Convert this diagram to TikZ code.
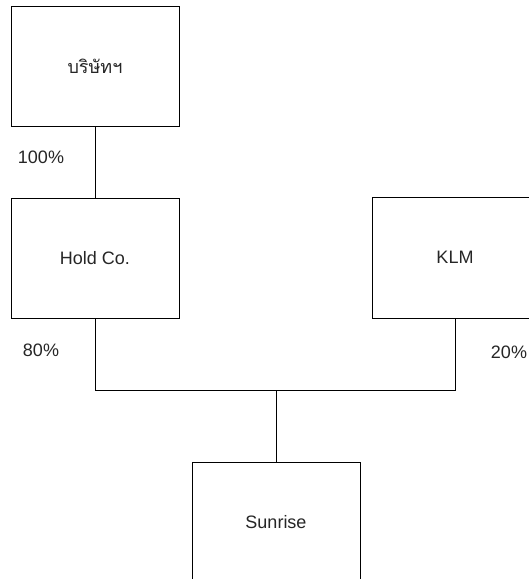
\documentclass[tikz,border=0pt]{standalone}
\usepackage{fontspec}
\setmainfont{Liberation Sans}
\newfontfamily\thaifont[Script=Thai]{Loma}
\newcommand{\lowertxt}[1]{\raisebox{-3.5pt}{#1}}
\begin{document}
\begin{tikzpicture}[x=1pt,y=-1pt,
  box/.style={draw=black, line width=1pt, minimum width=168pt, minimum height=120pt, inner sep=0pt, text=black!85, font=\fontsize{18}{20}\selectfont},
  lbl/.style={text=black!85, font=\fontsize{18}{20}\selectfont, inner sep=0pt},
  conn/.style={draw=black, line width=1pt}]
\clip (0,0) rectangle (529,579);
\fill[white] (0,0) rectangle (529,579);
\node[box] (co) at (95,66) {\lowertxt{\thaifont บริษัทฯ}};
\node[box] (hold) at (95,258) {\lowertxt{Hold Co.}};
\node[box, minimum width=166pt, minimum height=121pt] (klm) at (455,257.5) {\lowertxt{KLM}};
\node[box] (sun) at (276,522) {\lowertxt{Sunrise}};
\coordinate (jl) at (95,390);
\coordinate (jr) at (455,390);
\coordinate (jm) at (276,390);
\draw[conn] (co.south) -- (hold.north);
\draw[conn] (hold.south) -- (jl) -- (jr) -- (klm.south);
\draw[conn] (jm) -- (sun.north);
\node[lbl] (p100) at (41,157) {100\%};
\node[lbl] (p80) at (41,350) {80\%};
\node[lbl] (p20) at (509,352) {20\%};
\end{tikzpicture}
\end{document}
